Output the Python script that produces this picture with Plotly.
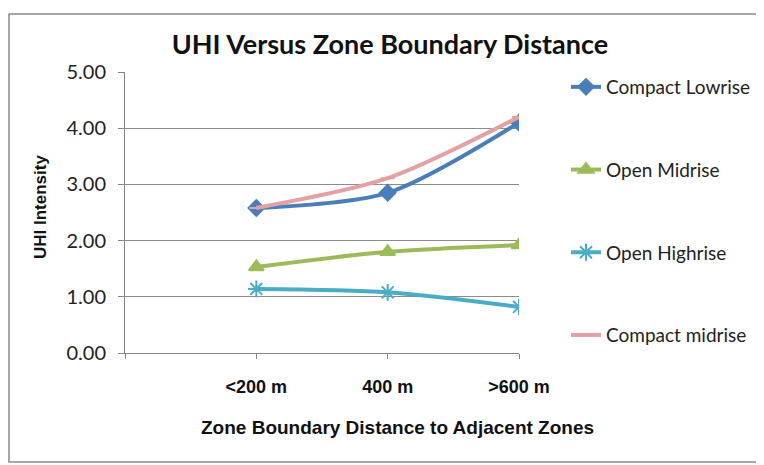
import plotly.graph_objects as go

categories = ["<200 m", "400 m", ">600 m"]
compact_lowrise = [2.58, 2.85, 4.10]
open_midrise = [1.53, 1.80, 1.92]
open_highrise = [1.14, 1.08, 0.82]
compact_midrise = [2.58, 3.11, 4.20]
y_ticks = [0, 1, 2, 3, 4, 5]

xpos = list(range(len(categories)))

series = [
    ("Compact Lowrise", compact_lowrise, "#4A7EBB", "diamond", 12),
    ("Open Midrise", open_midrise, "#9BBB59", "triangle-up", 13),
    ("Open Highrise", open_highrise, "#4BACC6", "asterisk-open", 14),
    ("Compact midrise", compact_midrise, "#E3A1A3", "line-ew-open", 10),
]

fig = go.Figure()
for i, (name, vals, col, sym, sz) in enumerate(series):
    fig.add_trace(go.Scatter(
        x=xpos, y=vals, name=name, mode="lines+markers",
        line=dict(color=col, width=4, shape="spline", smoothing=0.8),
        marker=dict(symbol=sym, size=sz, color=col, line=dict(color=col, width=2)),
        legendgroup=f"g{i}",
    ))

OFF = 8  # page body margin
L, R, T, B = 125 - OFF, 519 - OFF, 72 - OFF, 353 - OFF
W, H = 764, 465

def px_x(p):
    return (p - OFF - L) / (R - L)

def px_y(p):
    return (B - (p - OFF)) / (B - T)

fig.update_layout(
    width=W, height=H,
    margin=dict(l=L, r=W - R, t=T, b=H - B, pad=0),
    paper_bgcolor="white", plot_bgcolor="white",
    font=dict(family="Lato", color="#1a1a1a"),
    title=dict(text="<b>UHI Versus Zone Boundary Distance</b>",
               font=dict(family="Lato", size=27, color="#111"),
               x=px_x(390), xref="paper", xanchor="center",
               y=1 - (45 - OFF) / H, yref="container", yanchor="middle"),
    showlegend=True,
    legend=dict(x=px_x(566), y=px_y(68), xanchor="left", yanchor="top",
                font=dict(family="Lato", size=19, color="#222"),
                tracegroupgap=55, bgcolor="rgba(0,0,0,0)", maxheight=420),
    xaxis=dict(range=[-1, 2], tickmode="array", tickvals=[-1] + xpos,
               ticktext=[""] + categories, showgrid=False, zeroline=False,
               showline=True, linecolor="#868686", linewidth=1,
               ticks="outside", ticklen=5, tickcolor="#868686",
               tickfont=dict(family="Liberation Sans", size=18, color="#111", weight="bold"),
               ticklabelstandoff=12),
    yaxis=dict(range=[0, 5], tickvals=y_ticks, tickformat=".2f",
               showgrid=True, gridcolor="#8c8c8c", gridwidth=1, zeroline=False,
               showline=True, linecolor="#868686", linewidth=1,
               ticks="outside", ticklen=6, tickcolor="#868686",
               tickfont=dict(family="Lato", size=20, color="#222"),
               ticklabelstandoff=8),
    annotations=[
        dict(text="<b>Zone Boundary Distance to Adjacent Zones</b>",
             xref="paper", yref="paper", x=px_x(397), y=px_y(427),
             xanchor="center", yanchor="middle", showarrow=False,
             font=dict(family="Liberation Sans", size=19, color="#111")),
        dict(text="<b>UHI Intensity</b>", textangle=-90,
             xref="paper", yref="paper", x=px_x(40), y=px_y(207),
             xanchor="center", yanchor="middle", showarrow=False,
             font=dict(family="Liberation Sans", size=17, color="#111")),
    ],
    shapes=[dict(type="rect", xref="paper", yref="paper",
                 x0=px_x(9), x1=px_x(762), y0=px_y(462), y1=px_y(14),
                 line=dict(color="#8a8a8a", width=1.5), layer="below")],
)

fig.write_html("out.html")
